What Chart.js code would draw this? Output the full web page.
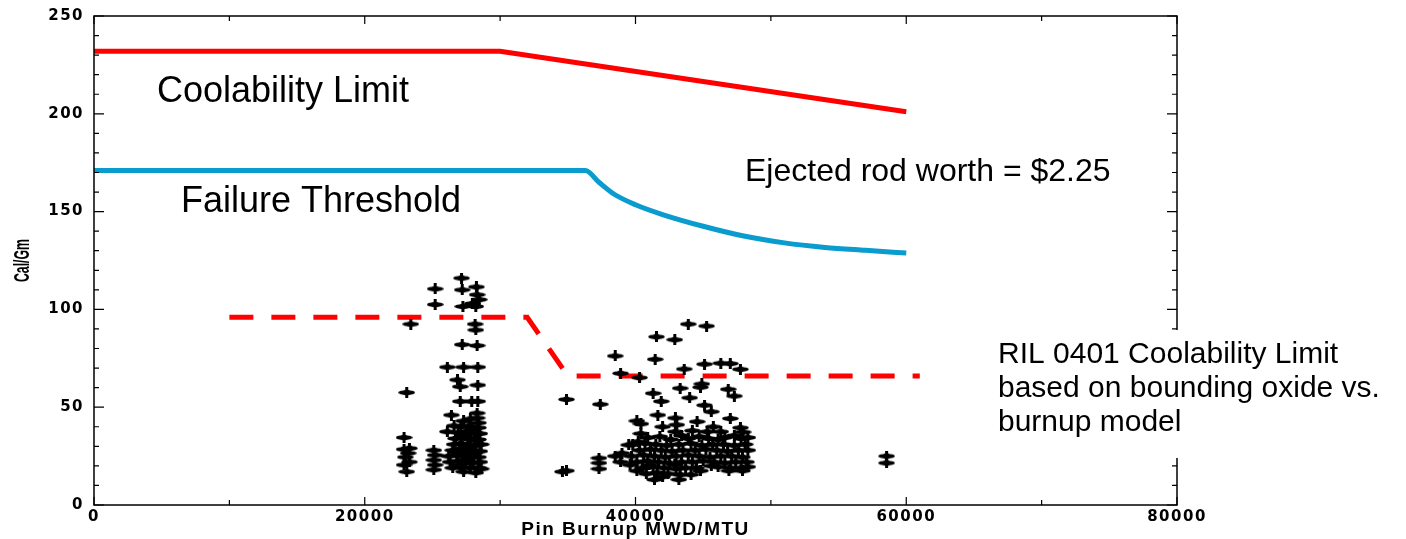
<!DOCTYPE html>
<html>
<head>
<meta charset="utf-8">
<title>Cal/Gm vs Pin Burnup</title>
<script src="https://cdn.jsdelivr.net/npm/chart.js@4.4.1/dist/chart.umd.min.js"></script>
<style>
  html, body { margin: 0; padding: 0; background: #fff; }
  #wrap { width: 1406px; height: 539px; }
</style>
</head>
<body>
<div id="wrap"><canvas id="chart" width="1406" height="539"></canvas></div>
<script>
// labelled ticks
const xTickLabels = [0, 20000, 40000, 60000, 80000];
const yTickLabels = [0, 50, 100, 150, 200, 250];

// limit curves
const coolabilityBurnup = [0, 30000, 60000];
const coolabilityCalGm = [232, 232, 201];

const failureBurnup = [0, 36300, 37300, 38400, 40000, 42000, 45000, 48000, 51000, 54000, 57000, 60000];
const failureCalGm = [171, 171, 165, 159, 153.5, 148.5, 142.5, 137.5, 134, 131.7, 130.2, 128.8];

const rilBurnup = [10000, 32000, 35000, 61000];
const rilCalGm = [96, 96, 66, 66];

// test rods, [burnup, cal/gm]
const rods23k = [
  [23400, 92.5], [23100, 57.5], [22900, 34.5], [23300, 29], [22900, 28.5], [23200, 26.5],
  [23000, 24.5], [23300, 22], [22900, 20.5], [23100, 17]
];
const rods25k = [
  [25200, 110.5], [25200, 102.5], [25100, 28], [25200, 25.5], [25100, 23], [25200, 20.5], [25100, 18]
];
const rods27k = [
  [27150, 116], [27200, 110], [28250, 111.5], [28300, 107.5], [27250, 101.5], [27950, 103],
  [28200, 101.5], [28450, 105], [28150, 92.5], [28200, 89.5], [27200, 82], [28300, 81.5],
  [26100, 70.5], [27300, 70.5], [28350, 70.5], [26850, 64], [27050, 60.5], [28350, 61.3],
  [27050, 53], [27900, 53], [28350, 53], [26400, 46], [28300, 47], [28300, 44.5], [26100, 37.5],
  [27300, 43], [28400, 42], [27100, 40], [27700, 40.5], [28400, 39.5], [27800, 44], [26600, 40.5],
  [26900, 37], [27500, 37.5], [28100, 37], [28500, 36.5], [27900, 38.5], [27400, 35.5],
  [26700, 34], [27200, 34.5], [27800, 34], [28400, 33.5], [28200, 33],
  [26600, 31], [27100, 31.5], [27600, 31], [28200, 30.5], [28600, 31], [27700, 29.5],
  [26500, 28], [27000, 28.5], [27500, 28], [28000, 28], [28500, 27.5], [26800, 27], [27300, 26.5],
  [26200, 25], [26800, 25.5], [27300, 25], [27900, 25], [28400, 24.5], [28100, 26.5], [27600, 23.5],
  [26300, 22], [26900, 22.5], [27400, 22], [28000, 21.5], [28500, 22], [27000, 20.5],
  [26500, 19], [27100, 19.5], [27800, 19], [28400, 19], [28600, 18.5], [27300, 17], [28200, 16.5]
];
const rods35to40k = [
  [34900, 54], [34600, 17], [34900, 17.5], [37400, 51.5], [37300, 24], [37300, 21.5], [37300, 18.5],
  [38500, 76.2], [38900, 67.3], [40300, 65.1], [38500, 25], [38900, 22], [39000, 26.5],
  [39500, 30.7], [40200, 32.4], [40400, 41.5], [40100, 43], [39600, 20.5], [40100, 17.5]
];
const rods41to48k = [
  [41550, 86], [42900, 84.5], [43900, 92.5], [45250, 91.5],
  [41450, 74.5], [43600, 69.5], [45100, 72], [46300, 72.5], [47000, 72.3], [47750, 69.4],
  [43300, 59.7], [44900, 61.9], [44800, 60.2], [46850, 59.2], [47300, 55.7],
  [41300, 57.1], [41900, 53], [44000, 54.8], [45100, 51], [45600, 47.7],
  [41650, 46], [42950, 44.5], [43050, 41], [44550, 42.6], [45750, 40], [47000, 44.2],
  [47750, 39.5], [47950, 37.3], [45300, 37.5], [46300, 37.5], [42950, 37.5], [42000, 40], [44200, 38],
  [40900, 34.5], [41800, 35], [43900, 34], [44700, 35], [46600, 34.5], [47800, 34],
  [40400, 36.5], [42600, 33.5], [43400, 35.5], [45400, 34], [46100, 33.5], [47300, 35.5], [48300, 34.5],
  [39800, 31], [40700, 31.5], [41500, 31], [42300, 30.5], [43200, 31], [44100, 31.5],
  [44900, 30.5], [45700, 31], [46500, 31], [47300, 30.5], [48100, 31],
  [40300, 28], [41100, 28.5], [41900, 28], [42700, 27.5], [43500, 28], [44400, 28],
  [45200, 28.5], [46000, 28], [46800, 27.5], [47600, 28], [48300, 28],
  [39700, 25], [40600, 25.5], [41400, 25], [42200, 24.5], [43000, 25], [43900, 25.5],
  [44700, 25], [45500, 24.5], [46300, 25], [47100, 25], [47900, 24.5],
  [40100, 22], [40900, 22.5], [41700, 22], [42500, 21.5], [43400, 22], [44200, 22],
  [45000, 22.5], [45800, 22], [46600, 21.5], [47400, 22], [48200, 22],
  [41000, 20.5], [42900, 20.5], [45600, 20], [48300, 19.5],
  [40500, 19], [41300, 19.5], [42100, 19], [43000, 18.5], [43700, 19], [44500, 19],
  [46100, 19.5], [47000, 19], [47800, 19], [44800, 17.5], [46900, 17.5], [47900, 17.5],
  [40800, 16], [41600, 16.5], [42400, 16], [43300, 15.5], [42000, 14.5], [44100, 15.5],
  [41400, 13], [43200, 13]
];
const rods58k = [[58550, 25], [58550, 21.5]];

function makeMarker() {
  const c = document.createElement("canvas");
  c.width = 17;
  c.height = 11;
  const g = c.getContext("2d");
  g.fillStyle = "#000";
  g.beginPath();
  g.ellipse(8.5, 5.5, 8.3, 2.3, 0, 0, Math.PI * 2);
  g.fill();
  g.fillRect(7, 0, 3, 11);
  g.beginPath();
  g.moveTo(8.5, 1.5);
  g.lineTo(14, 5.5);
  g.lineTo(8.5, 9.5);
  g.lineTo(3, 5.5);
  g.closePath();
  g.fill();
  return c;
}
const marker = makeMarker();

const toPoints = (xs, ys) => xs.map((x, i) => ({ x: x, y: ys[i] }));
const toXY = (pairs) => pairs.map((p) => ({ x: p[0], y: p[1] }));

const allRods = [].concat(rods23k, rods25k, rods27k, rods35to40k, rods41to48k, rods58k);

// inward ticks, frame and the slide annotations
const axisFrame = {
  id: "axisFrame",
  beforeLayout(chart) {
    chart.ctx.letterSpacing = "1.5px";
  },
  beforeDraw(chart) {
    chart.ctx.letterSpacing = "1.5px";
  },
  afterDraw(chart) {
    const { ctx, chartArea: a, scales } = chart;
    const x = scales.x;
    const y = scales.y;
    ctx.save();
    ctx.letterSpacing = "0px";
    ctx.strokeStyle = "#000";
    ctx.lineWidth = 1.5;
    ctx.strokeRect(a.left, a.top, a.right - a.left, a.bottom - a.top);

    ctx.lineWidth = 1.2;
    ctx.beginPath();
    y.ticks.forEach((t) => {
      const py = y.getPixelForValue(t.value);
      const len = yTickLabels.includes(t.value) ? 10 : 5;
      ctx.moveTo(a.left, py);
      ctx.lineTo(a.left + len, py);
      ctx.moveTo(a.right, py);
      ctx.lineTo(a.right - len, py);
    });
    x.ticks.forEach((t) => {
      const px = x.getPixelForValue(t.value);
      const len = xTickLabels.includes(t.value) ? 8 : 5;
      ctx.moveTo(px, a.bottom);
      ctx.lineTo(px, a.bottom - len);
      ctx.moveTo(px, a.top);
      ctx.lineTo(px, a.top + len);
    });
    ctx.stroke();

    // y axis title (narrow, as in the scan)
    ctx.save();
    ctx.translate(23, (a.top + a.bottom) / 2);
    ctx.rotate(-Math.PI / 2);
    ctx.scale(0.56, 1);
    ctx.fillStyle = "#000";
    ctx.font = 'bold 22px "Liberation Sans", Arial, sans-serif';
    ctx.textAlign = "center";
    ctx.textBaseline = "middle";
    ctx.fillText("Cal/Gm", 0, 0);
    ctx.restore();

    ctx.fillStyle = "#000";
    ctx.textAlign = "left";
    ctx.textBaseline = "middle";
    ctx.font = '36px "Liberation Sans", Arial, sans-serif';
    ctx.fillText("Coolability Limit", 157, 92);
    ctx.fillText("Failure Threshold", 181, 202);
    ctx.font = '32px "Liberation Sans", Arial, sans-serif';
    ctx.fillText("Ejected rod worth = $2.25", 745, 172);

    ctx.fillStyle = "#fff";
    ctx.fillRect(988, 330, 360, 128);
    ctx.fillStyle = "#000";
    ctx.font = '30px "Liberation Sans", Arial, sans-serif';
    ctx.fillText("RIL 0401 Coolability Limit", 998, 355);
    ctx.fillText("based on bounding oxide vs.", 998, 389);
    ctx.fillText("burnup model", 998, 423);
    ctx.restore();
  }
};

const xTickFont = { family: '"DejaVu Sans", sans-serif', size: 15, weight: "bold" };
const yTickFont = { family: '"DejaVu Sans", sans-serif', size: 15, weight: "bold", lineHeight: 0.6 };

new Chart(document.getElementById("chart"), {
  type: "scatter",
  data: {
    datasets: [
      {
        label: "Test rods",
        data: toXY(allRods),
        pointStyle: marker,
        pointRadius: 4,
        showLine: false
      },
      {
        label: "Coolability Limit",
        data: toPoints(coolabilityBurnup, coolabilityCalGm),
        showLine: true,
        borderColor: "#ff0000",
        borderWidth: 5,
        pointRadius: 0
      },
      {
        label: "Failure Threshold",
        data: toPoints(failureBurnup, failureCalGm),
        showLine: true,
        borderColor: "#0a9bcf",
        borderWidth: 5,
        pointRadius: 0,
        cubicInterpolationMode: "monotone"
      },
      {
        label: "RIL 0401 Coolability Limit",
        data: toPoints(rilBurnup, rilCalGm),
        showLine: true,
        borderColor: "#ff0000",
        borderWidth: 5,
        borderDash: [24, 18],
        pointRadius: 0
      }
    ]
  },
  options: {
    responsive: false,
    devicePixelRatio: 1,
    animation: false,
    layout: { padding: { top: 16, right: 229, left: 0, bottom: 0 } },
    plugins: { legend: { display: false }, tooltip: { enabled: false } },
    scales: {
      x: {
        type: "linear",
        min: 0,
        max: 80000,
        afterFit(s) { s.height = 34; },
        grid: { display: false, drawTicks: false },
        border: { display: false },
        ticks: {
          stepSize: 10000,
          autoSkip: false,
          maxRotation: 0,
          padding: 3,
          color: "#000",
          font: xTickFont,
          callback: (v) => (xTickLabels.includes(v) ? String(v) : "")
        },
        title: {
          display: true,
          text: "Pin Burnup MWD/MTU",
          color: "#000",
          padding: 0,
          font: { family: '"Liberation Sans", Arial, sans-serif', size: 19, weight: "bold", lineHeight: 1 }
        }
      },
      y: {
        type: "linear",
        min: 0,
        max: 250,
        afterFit(s) { s.width = 94; },
        grid: { display: false, drawTicks: false },
        border: { display: false },
        ticks: {
          stepSize: 10,
          autoSkip: false,
          padding: 10,
          color: "#000",
          font: yTickFont,
          callback: (v) => (yTickLabels.includes(v) ? String(v) : "")
        }
      }
    }
  },
  plugins: [axisFrame]
});
</script>
</body>
</html>
